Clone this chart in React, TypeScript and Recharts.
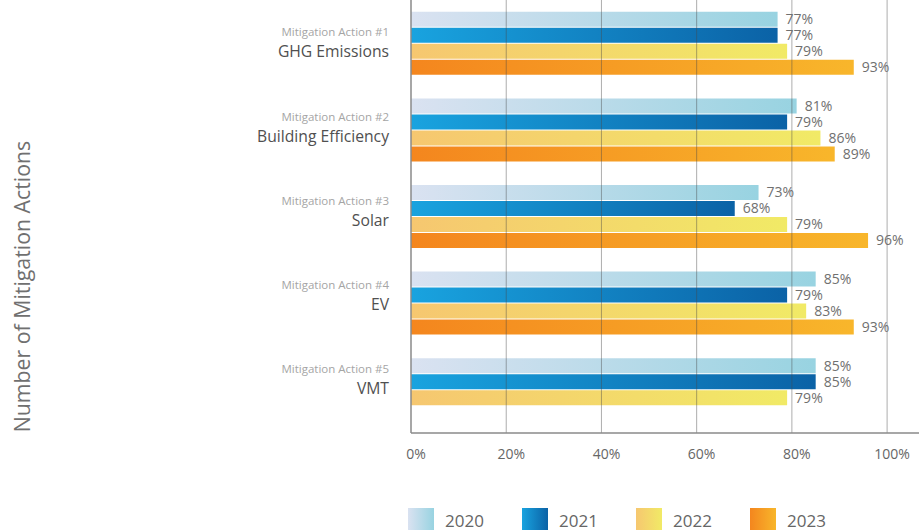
import { BarChart, Bar, XAxis, YAxis, ReferenceLine, LabelList } from 'recharts'

// Mitigation action survey results, share of responses per year
const actionNumbers = [
  'Mitigation Action #1',
  'Mitigation Action #2',
  'Mitigation Action #3',
  'Mitigation Action #4',
  'Mitigation Action #5',
]
const actionNames = ['GHG Emissions', 'Building Efficiency', 'Solar', 'EV', 'VMT']
const years = ['2020', '2021', '2022', '2023']
const values2020 = [77, 81, 73, 85, 85]
const values2021 = [77, 79, 68, 79, 85]
const values2022 = [79, 86, 79, 83, 79]
const values2023 = [93, 89, 96, 93, null]
const xTicks = [0, 20, 40, 60, 80, 100]

const gradients = [
  ['#dae2f1', '#98d3e1'],
  ['#19a3df', '#0b62a6'],
  ['#f6c770', '#f1ea66'],
  ['#f4861e', '#f8b62b'],
]

const FONT = '"Open Sans", sans-serif'

const data = actionNames.map((name, i) => ({
  name,
  y2020: values2020[i],
  y2021: values2021[i],
  y2022: values2022[i],
  y2023: values2023[i],
}))

function CategoryTick({ x, y, payload, index }: any) {
  const i = payload?.index ?? index
  const shift = -1 - 2.4 * i
  return (
    <g fontFamily={FONT}>
      <text x={x} y={y + shift - 6} textAnchor="end" fontSize={11.5} fill="#a5a5a5">
        {actionNumbers[i]}
      </text>
      <text x={x} y={y + shift + 15} textAnchor="end" fontSize={15.7} fill="#505050">
        {actionNames[i]}
      </text>
    </g>
  )
}

function AxisTitle({ viewBox }: any) {
  const cx = viewBox.x + 21
  const cy = viewBox.y + viewBox.height / 2 + 70
  return (
    <text
      x={cx}
      y={cy}
      transform={`rotate(-90, ${cx}, ${cy})`}
      textAnchor="middle"
      dominantBaseline="central"
      fontSize={21.3}
      fill="#707070"
      fontFamily={FONT}
    >
      Number of Mitigation Actions
    </text>
  )
}

function ValueLabel({ x, y, width, height, value }: any) {
  if (value == null) return null
  return (
    <text
      x={x + width + 8}
      y={y + height / 2 + 5}
      fontSize={14}
      fill="#707070"
      fontFamily={FONT}
    >
      {value}%
    </text>
  )
}

export default function App() {
  const keys = ['y2020', 'y2021', 'y2022', 'y2023']
  return (
    <div style={{ position: 'absolute', left: 0, top: 0, width: 919, height: 530, background: '#fff', overflow: 'hidden' }}>
      <BarChart
        width={919}
        height={530}
        data={data}
        layout="vertical"
        margin={{ top: 0, right: 0, left: 0, bottom: 67 }}
        barCategoryGap="13.6%"
        barGap={1}
      >
        <defs>
          {gradients.map((g, i) => (
            <linearGradient key={i} id={`grad${i}`} x1="0" y1="0" x2="1" y2="0">
              <stop offset="0%" stopColor={g[0]} />
              <stop offset="100%" stopColor={g[1]} />
            </linearGradient>
          ))}
        </defs>
        <XAxis
          type="number"
          domain={[0, 106.7]}
          ticks={xTicks}
          allowDataOverflow
          height={30}
          tickLine={false}
          tickMargin={10}
          tickFormatter={(v) => `${v}%`}
          tick={{ fontSize: 14, fill: '#666', dx: 5, fontFamily: FONT }}
          axisLine={{ stroke: '#8a8a8a', strokeWidth: 1.5 }}
        />
        <YAxis
          type="category"
          dataKey="name"
          width={411}
          tickLine={false}
          tickMargin={16}
          tick={<CategoryTick />}
          axisLine={{ stroke: '#8a8a8a', strokeWidth: 1.5 }}
          label={{ content: <AxisTitle /> }}
        />
        {keys.map((k, i) => (
          <Bar key={k} dataKey={k} name={years[i]} fill={`url(#grad${i})`} isAnimationActive={false}>
            <LabelList dataKey={k} content={<ValueLabel />} />
          </Bar>
        ))}
        {xTicks.slice(1).map((t) => (
          <ReferenceLine key={t} x={t} stroke="#4a4a4a" strokeOpacity={0.45} strokeWidth={1} />
        ))}
      </BarChart>
      <div
        style={{
          position: 'absolute',
          left: 408,
          top: 508,
          display: 'flex',
          fontFamily: FONT,
        }}
      >
        {years.map((yr, i) => (
          <div key={yr} style={{ display: 'flex', alignItems: 'center', width: 114 }}>
            <div
              style={{
                width: 26,
                height: 24,
                background: `linear-gradient(to right, ${gradients[i][0]}, ${gradients[i][1]})`,
              }}
            />
            <span style={{ marginLeft: 11, fontSize: 17, color: '#666' }}>{yr}</span>
          </div>
        ))}
      </div>
    </div>
  )
}
